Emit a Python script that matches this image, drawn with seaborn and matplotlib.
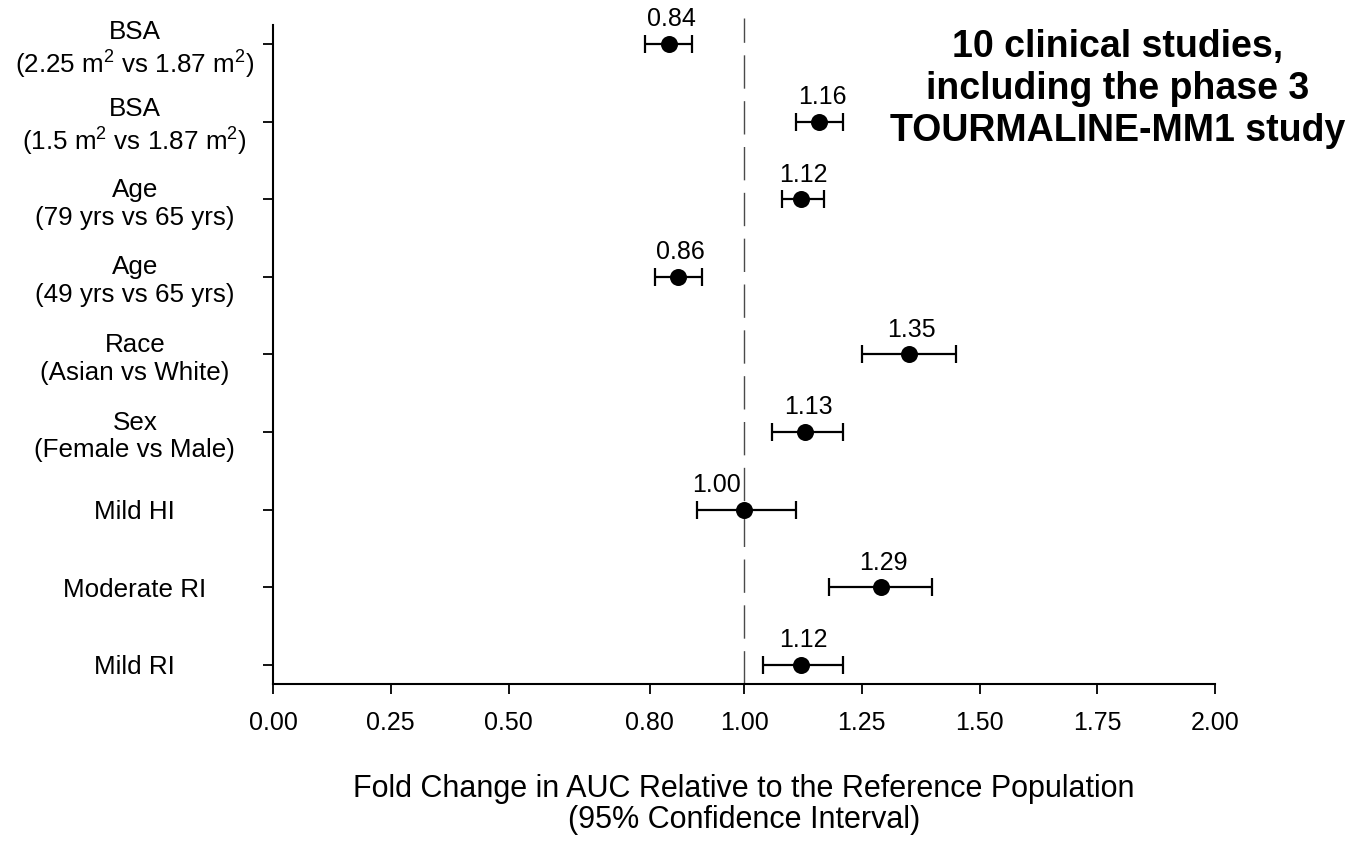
import matplotlib
matplotlib.use("Agg")
import matplotlib.pyplot as plt
import seaborn as sns
import pandas as pd
import numpy as np

# ---- data ----
categories = [
    "BSA\n(2.25 $\\mathregular{m^2}$ vs 1.87 $\\mathregular{m^2}$)",
    "BSA\n(1.5 $\\mathregular{m^2}$ vs 1.87 $\\mathregular{m^2}$)",
    "Age\n(79 yrs vs 65 yrs)",
    "Age\n(49 yrs vs 65 yrs)",
    "Race\n(Asian vs White)",
    "Sex\n(Female vs Male)",
    "Mild HI",
    "Moderate RI",
    "Mild RI",
]
fold_change = [0.84, 1.16, 1.12, 0.86, 1.35, 1.13, 1.00, 1.29, 1.12]
ci_low = [0.79, 1.11, 1.08, 0.81, 1.25, 1.06, 0.90, 1.18, 1.04]
ci_high = [0.89, 1.21, 1.17, 0.91, 1.45, 1.21, 1.11, 1.40, 1.21]
x_ticks = [0.00, 0.25, 0.50, 0.80, 1.00, 1.25, 1.50, 1.75, 2.00]
x_tick_labels = ["0.00", "0.25", "0.50", "0.80", "1.00", "1.25", "1.50", "1.75", "2.00"]

title_text = "10 clinical studies,\nincluding the phase 3\nTOURMALINE-MM1 study"
xlabel_text = "Fold Change in AUC Relative to the Reference Population\n(95% Confidence Interval)"

# ---- styling ----
sns.set_theme(style="ticks")
plt.rcParams["font.family"] = ["Liberation Sans", "DejaVu Sans"]
plt.rcParams["mathtext.fontset"] = "custom"
plt.rcParams["mathtext.rm"] = "Liberation Sans"
plt.rcParams["mathtext.it"] = "Liberation Sans:italic"
plt.rcParams["mathtext.bf"] = "Liberation Sans:bold"
plt.rcParams["text.color"] = "black"
plt.rcParams["axes.labelcolor"] = "black"
plt.rcParams["xtick.color"] = "black"
plt.rcParams["ytick.color"] = "black"

n = len(categories)
df = pd.DataFrame({
    "category": categories,
    "fc": fold_change,
    "lo": ci_low,
    "hi": ci_high,
})
df["ypos"] = np.arange(n)[::-1]

W, H = 1355, 846
fig = plt.figure(figsize=(W / 100, H / 100), dpi=100)
ax = fig.add_axes([273 / W, 1 - 684 / H, (1215 - 273) / W, (684 - 25) / H])

# reference line
ax.plot([1.0, 1.0], [-0.245, 8.33], color="#4a4a4a", lw=1.0,
        dashes=(24, 9), zorder=1, clip_on=False)

# CIs
ax.errorbar(df["fc"], df["ypos"],
            xerr=[df["fc"] - df["lo"], df["hi"] - df["fc"]],
            fmt="none", ecolor="black", elinewidth=1.6, capsize=6.2,
            capthick=1.6, zorder=2)

# points
sns.scatterplot(data=df, x="fc", y="ypos", ax=ax, color="black", s=150,
                edgecolor="black", linewidth=0, zorder=3, legend=False)

# value labels
for _, r in df.iterrows():
    dx = -20 if abs(r["fc"] - 1.0) < 1e-9 else 2
    ax.annotate(f"{r['fc']:.2f}", (r["fc"], r["ypos"]), xytext=(dx, 12.7),
                textcoords="offset points", ha="center", va="baseline",
                fontsize=18, color="black")

ax.set_xlim(0, 2.0)
ax.set_ylim(-0.245, 8.245)
ax.set_xticks(x_ticks)
ax.set_xticklabels(x_tick_labels, fontsize=18)
ax.set_yticks(df["ypos"])
ax.set_yticklabels(df["category"], fontsize=18.7)
for lab in ax.get_yticklabels():
    lab.set_ha("center")
    lab.set_multialignment("center")
    lab.set_linespacing(1.2)

ax.tick_params(axis="y", direction="out", length=7.5, width=1.3, pad=92)
ax.tick_params(axis="x", direction="out", length=7.5, width=1.3, pad=12)
for s in ["top", "right"]:
    ax.spines[s].set_visible(False)
for s in ["left", "bottom"]:
    ax.spines[s].set_color("black")
    ax.spines[s].set_linewidth(1.5)

ax.set_xlabel(xlabel_text, fontsize=22, labelpad=28, linespacing=1.05)
ax.set_ylabel("")

fig.text(1118 / W, 1 - 89 / H, title_text, ha="center", va="center",
         fontsize=27, fontweight="bold", linespacing=1.22, color="black")

fig.savefig("out.png", dpi=100)
